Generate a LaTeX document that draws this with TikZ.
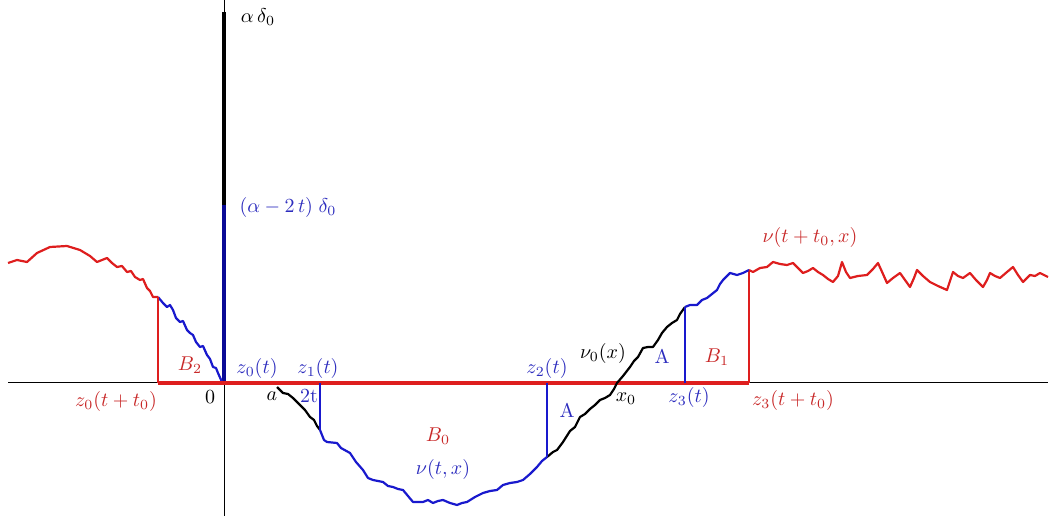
\documentclass[tikz,border=0pt]{standalone}
\usepackage{amsmath,amssymb}
\usepackage{tikz}
\usetikzlibrary{arrows.meta,positioning}
\definecolor{cred}{RGB}{222,30,30}
\definecolor{cblue}{RGB}{25,25,205}
\definecolor{dblue}{RGB}{10,10,150}
\definecolor{lred}{RGB}{200,40,40}
\definecolor{lblue}{RGB}{45,45,190}
\begin{document}
\begin{tikzpicture}[x=0.5pt,y=-0.5pt,>=stealth,every node/.style={font=\normalsize,inner sep=1pt},
  redlbl/.style={text=lred},bluelbl/.style={text=lblue},
  curve/.style={line width=1.1pt,line join=round}]
\useasboundingbox (0,0) rectangle (1051,518);
% axes
\draw[line width=0.5pt] (8,383) -- (1048,383);
\draw[line width=0.5pt] (224,0) -- (224,516);
% Dirac masses
\draw[line width=2.2pt] (224,12) -- (224,205);
\draw[line width=2.2pt,dblue] (224,205) -- (224,383);
% key points on the curves
\coordinate (lj) at (158,297);
\coordinate (rj) at (749,270);
% left part of the initial datum
\draw[curve,cred] (8,263) -- (17,260) -- (27,262) -- (37,253) -- (50,247) -- (67,246) -- (80,250)
  -- (90,256) -- (97,262) -- (107,258) -- (112,263) -- (117,267) -- (122,266) -- (127,272) -- (131,271)
  -- (135,277) -- (140,280) -- (143,279) -- (147,288) -- (150,291) -- (153,297) -- (lj);
\draw[curve,cblue] (lj) -- (163,303) -- (167,307) -- (170,305) -- (173,310) -- (176,318) -- (180,322)
  -- (183,321) -- (187,330) -- (190,333) -- (193,335) -- (196,342) -- (200,347) -- (203,346)
  -- (207,355) -- (210,359) -- (213,367) -- (216,368) -- (218,373) -- (222,382);
% boxes B_2, B_0, B_1
\draw[line width=1.1pt,cred] (lj) -- (158,383);
\draw[line width=1.8pt,cred] (158,383) -- (rj |- 158,383);
\draw[line width=1.1pt,cred] (rj |- 158,383) -- (rj);
% bottom of the profile
\draw[curve] (277,387) -- (283,393) -- (288,394) -- (293,398) -- (297,402) -- (300,405) -- (305,410)
  -- (310,417) -- (314,420) -- (317,426) -- (320,430);
\draw[curve,cblue] (320,430) -- (324,440) -- (327,442) -- (337,443) -- (341,448) -- (350,453)
  -- (356,462) -- (363,470) -- (368,478) -- (373,480) -- (383,482) -- (388,486) -- (393,487)
  -- (398,489) -- (403,490) -- (408,496) -- (413,502) -- (423,502) -- (428,500) -- (433,503)
  -- (438,501) -- (443,500) -- (450,503) -- (457,505) -- (462,503) -- (467,502) -- (475,497)
  -- (483,493) -- (490,491) -- (497,490) -- (503,485) -- (510,483) -- (517,482) -- (523,480)
  -- (530,474) -- (537,467) -- (542,461) -- (547,457);
\draw[curve] (547,457) -- (553,452) -- (557,450) -- (563,442) -- (570,431) -- (575,427) -- (580,417)
  -- (585,414) -- (590,409) -- (595,405) -- (600,400) -- (605,398) -- (610,395) -- (614,389)
  -- (617,383) -- (623,376) -- (630,367) -- (634,361) -- (638,357) -- (643,348) -- (648,347)
  -- (653,347) -- (658,340) -- (662,333) -- (667,327) -- (672,323) -- (677,320) -- (680,314) -- (685,307);
\draw[curve,cblue] (685,307) -- (690,305) -- (697,305) -- (702,300) -- (707,298) -- (712,294)
  -- (717,290) -- (720,284) -- (723,280) -- (727,276) -- (730,273) -- (737,275) -- (743,273) -- (rj);
% right part of the initial datum
\draw[curve,cred] (rj) -- (753,272) -- (760,268) -- (767,267) -- (773,262) -- (780,264) -- (787,265)
  -- (793,263) -- (798,268) -- (803,273) -- (808,271) -- (813,268) -- (818,272) -- (823,275)
  -- (828,279) -- (833,282) -- (838,276) -- (842,262) -- (846,272) -- (850,278) -- (858,276)
  -- (867,275) -- (873,269) -- (878,263) -- (883,274) -- (887,283) -- (893,278) -- (900,273)
  -- (905,280) -- (910,287) -- (914,278) -- (917,270) -- (923,276) -- (930,282) -- (938,286)
  -- (947,290) -- (950,281) -- (953,272) -- (958,276) -- (963,278) -- (970,273) -- (976,280)
  -- (983,287) -- (987,280) -- (990,273) -- (995,276) -- (1000,278) -- (1007,272) -- (1013,267)
  -- (1018,275) -- (1023,282) -- (1030,275) -- (1035,276) -- (1040,273) -- (1048,277);
% vertical cuts
\draw[line width=1.1pt,cblue] (320,383) -- (320,430);
\draw[line width=1.1pt,cblue] (547,383) -- (547,457);
\draw[line width=1.1pt,cblue] (685,383) -- (685,307);
% labels
\node (ad) at (258,17) {$\alpha\,\delta_0$};
\node[bluelbl] (a2d) at (288,208) {$(\alpha-2\,t)\;\delta_0$};
\node[redlbl] (zl) at (116,402) {$z_0(t+t_0)$};
\node[redlbl] (b2) at (190,365) {$B_2$};
\node (o) at (210,397) {$0$};
\node[bluelbl] (z0) at (257,369) {$z_0(t)$};
\node[bluelbl] (z1) at (318,369) {$z_1(t)$};
\node (a) at (272,396) {$a$};
\node[bluelbl] (tt) at (309,396) {2t};
\node[redlbl] (b0) at (438,436) {$B_0$};
\node[bluelbl] (nu) at (443,470) {$\nu(t,x)$};
\node[bluelbl] (z2) at (547,369) {$z_2(t)$};
\node[bluelbl] (aa) at (567,410) {A};
\node (nu0) at (603,354) {$\nu_0(x)$};
\node (x0) at (626,399) {$x_0$};
\node[bluelbl] (ab) at (662,356) {A};
\node[redlbl] (b1) at (717,357) {$B_1$};
\node[bluelbl] (z3) at (689,398) {$z_3(t)$};
\node[redlbl] (zr) at (793,401) {$z_3(t+t_0)$};
\node[redlbl] (nur) at (810,238) {$\nu(t+t_0,x)$};
\end{tikzpicture}
\end{document}
